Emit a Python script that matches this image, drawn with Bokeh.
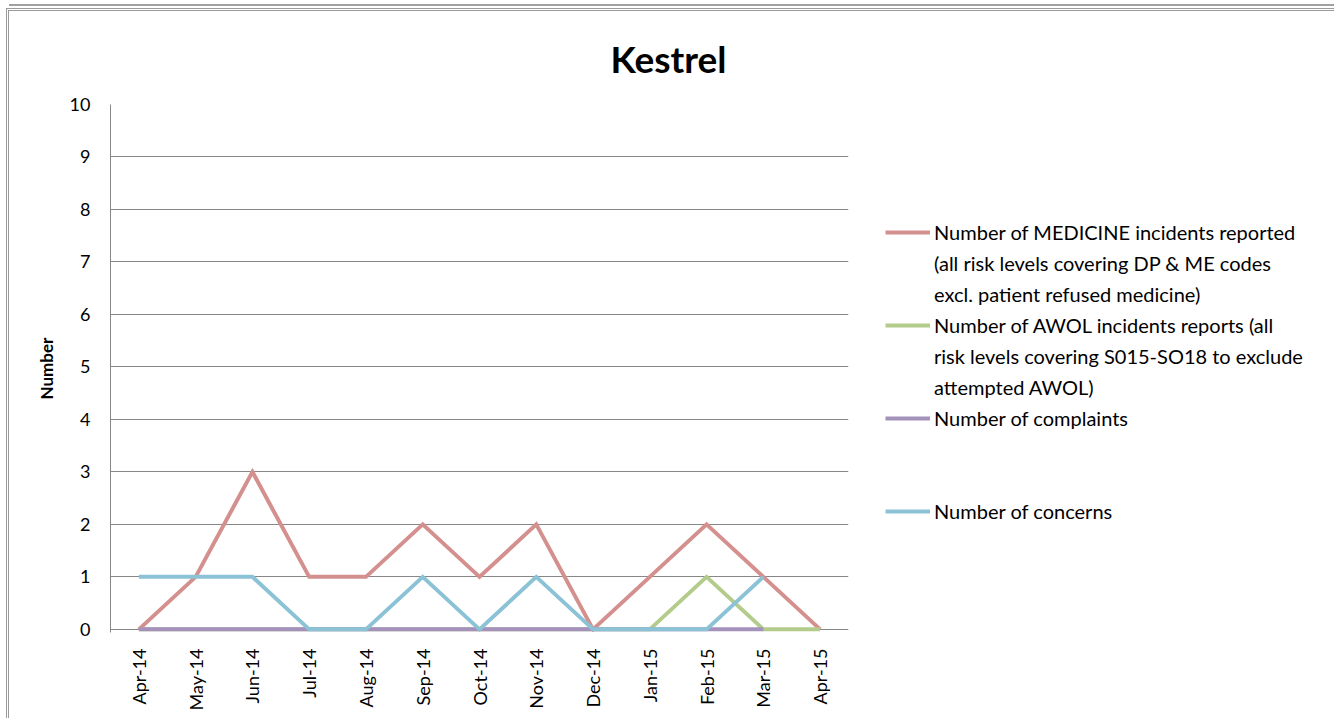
import numpy as np
from bokeh.plotting import figure
from bokeh.models import Legend, LegendItem, FixedTicker, Range1d
from bokeh.embed import file_html
from bokeh.resources import INLINE

months = ["Apr-14", "May-14", "Jun-14", "Jul-14", "Aug-14", "Sep-14", "Oct-14",
          "Nov-14", "Dec-14", "Jan-15", "Feb-15", "Mar-15", "Apr-15"]
medicine = [0, 1, 3, 1, 1, 2, 1, 2, 0, 1, 2, 1, 0]
awol = [0, 0, 0, 0, 0, 0, 0, 0, 0, 0, 1, 0, 0]
complaints = [0, 0, 0, 0, 0, 0, 0, 0, 0, 0, 0, 0, np.nan]
concerns = [1, 1, 1, 0, 0, 1, 0, 1, 0, 0, 0, 1, np.nan]

# legend text, one list of lines per series
label_lines = [
    ["Number of MEDICINE incidents reported",
     "(all risk levels covering DP & ME codes",
     "excl. patient refused medicine)"],
    ["Number of AWOL incidents reports (all",
     "risk levels covering S015-SO18 to exclude",
     "attempted AWOL)"],
    ["Number of complaints", " ", " "],
    ["Number of concerns"],
]
colors = ["#D4908E", "#B3CB8B", "#A491BC", "#8BC2D6"]

FONT = "Lato"

p = figure(x_range=months, y_range=Range1d(-0.06, 10),
           frame_width=738, frame_height=528,
           min_border_left=101, min_border_top=91, min_border_right=480, min_border_bottom=88,
           output_backend="svg", toolbar_location=None,
           background_fill_color="white", border_fill_color="white")
p.outline_line_color = None
p.styles = {"border-top": "3px double #9a9a9a", "border-left": "3px double #9a9a9a",
            "border-right": "3px double #9a9a9a", "margin-left": "6px", "margin-top": "8px",
            "box-shadow": "0 -5px 0 -3px white, 0 -7px 0 -3px #a0a0a0"}

series = [medicine, awol, complaints, concerns]
renderers = []
for vals, c in zip(series, colors):
    r = p.line(months, vals, line_color=c, line_width=4, line_join="miter")
    renderers.append(r)

# invisible renderer used for continuation lines of the legend text
blank = p.line(x=[], y=[], line_alpha=0)

# title
p.title.text = "Kestrel"
p.title.text_font = FONT
p.title.text_font_style = "bold"
p.title.text_font_size = "37px"
p.title.text_color = "black"
p.title.align = "left"
p.title.vertical_align = "middle"
p.title.offset = 500
p.title.standoff = 46

# axes
p.yaxis.ticker = FixedTicker(ticks=list(range(0, 11)))
p.yaxis.axis_label = "Number"
p.yaxis.axis_label_text_font = FONT
p.yaxis.axis_label_text_font_style = "bold"
p.yaxis.axis_label_text_font_size = "17px"
p.yaxis.axis_label_text_color = "black"
p.yaxis.axis_label_standoff = 10
for ax in (p.xaxis, p.yaxis):
    ax.major_label_text_font = FONT
    ax.major_label_text_font_size = "18px"
    ax.major_label_text_color = "black"
    ax.major_tick_line_color = None
    ax.minor_tick_line_color = None
p.yaxis.axis_line_color = "#878787"
p.xaxis.axis_line_color = None
p.yaxis.major_label_standoff = 14
p.xaxis.major_label_standoff = 10
p.xaxis.major_label_orientation = np.pi / 2

p.xgrid.grid_line_color = None
p.ygrid.grid_line_color = "#878787"
p.ygrid.grid_line_width = 1

# legend: one row per text line, glyph only on the first line of each entry
items = []
for lines, r in zip(label_lines, renderers):
    for i, line in enumerate(lines):
        items.append(LegendItem(label=line, renderers=[r if i == 0 else blank]))

legend = Legend(items=items, location=(37, 109), glyph_width=45, glyph_height=24,
                label_height=24, label_standoff=4, label_text_font=FONT,
                label_text_font_size="20px", label_text_color="black",
                padding=0, margin=0, spacing=7, border_line_color=None,
                background_fill_alpha=0)
p.add_layout(legend, "right")

open("out.html", "w").write(file_html(p, INLINE))
